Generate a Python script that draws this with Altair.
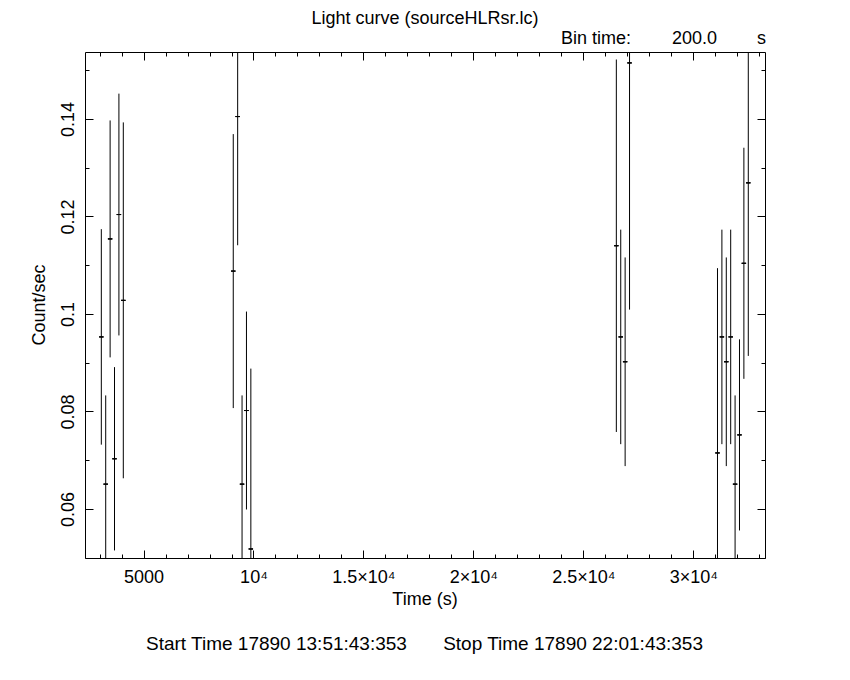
import altair as alt
import pandas as pd

# ---- data (200 s bins) ----
times = [3080, 3280, 3480, 3680, 3880, 4080,
         9080, 9280, 9480, 9680, 9880,
         26500, 26700, 26900, 27100,
         31100, 31300, 31500, 31700, 31900, 32100, 32300, 32500]
rates = [0.0953, 0.0651, 0.1154, 0.0703, 0.1204, 0.1028,
         0.1088, 0.1405, 0.0651, 0.0802, 0.0518,
         0.1140, 0.0953, 0.0902, 0.1515,
         0.0715, 0.0953, 0.0902, 0.0953, 0.0651, 0.0752, 0.1104, 0.1269]
errors = [0.0221, 0.0182, 0.0243, 0.0188, 0.0248, 0.0365,
          0.0281, 0.0264, 0.0182, 0.0203, 0.0370,
          0.0382, 0.0220, 0.0214, 0.0506,
          0.0379, 0.0220, 0.0214, 0.0220, 0.0182, 0.0196, 0.0237, 0.0355]
half_bin = 100  # half of the 200 s bin

x_domain = [2338, 33260]
y_domain = [0.04995, 0.15374]

x_major = [5000, 10000, 15000, 20000, 25000, 30000]
x_major_labels = ["5000", "10⁴", "1.5×10⁴", "2×10⁴", "2.5×10⁴", "3×10⁴"]
x_minor = [3000, 4000, 5000, 6000, 7000, 8000, 9000, 10000, 11000, 12000,
           13000, 14000, 15000, 16000, 17000, 18000, 19000, 20000, 21000,
           22000, 23000, 24000, 25000, 26000, 27000, 28000, 29000, 30000,
           31000, 32000, 33000]
y_major = [0.06, 0.08, 0.10, 0.12, 0.14]
y_major_labels = ["0.06", "0.08", "0.1", "0.12", "0.14"]
y_minor = [0.05, 0.06, 0.07, 0.08, 0.09, 0.10, 0.11, 0.12, 0.13, 0.14, 0.15]

title_text = "Light curve (sourceHLRsr.lc)"
bin_label = "Bin time:"
bin_value = "200.0"
bin_unit = "s"
x_title = "Time (s)"
y_title = "Count/sec"
start_text = "Start Time 17890 13:51:43:353"
stop_text = "Stop Time 17890 22:01:43:353"

FONT = "Liberation Sans"
FS = 18

df = pd.DataFrame({"t": times, "rate": rates, "err": errors})
df["lo"] = df["rate"] - df["err"]
df["hi"] = df["rate"] + df["err"]
df["t0"] = df["t"] - half_bin
df["t1"] = df["t"] + half_bin


def label_expr(values, labels):
    expr = "''"
    for v, lab in reversed(list(zip(values, labels))):
        expr = f"abs(datum.value - {v}) < 1e-9 ? '{lab}' : ({expr})"
    return expr


xs = alt.Scale(domain=x_domain, nice=False, zero=False)
ys = alt.Scale(domain=y_domain, nice=False, zero=False)


def tick_axis(orient, values, size, **kw):
    opts = dict(orient=orient, values=values, tickSize=size, offset=-size,
                domain=False, grid=False, title=None, ticks=True,
                tickColor="black", tickWidth=1)
    if "labelExpr" not in kw:
        opts["labels"] = False
    opts.update(kw)
    return alt.Axis(**opts)


x_bottom_major = tick_axis("bottom", x_major, 8,
                           labelExpr=label_expr(x_major, x_major_labels),
                           labelFont=FONT, labelFontSize=FS, labelColor="black",
                           labelPadding=10, labelOverlap=False, labelFlush=False)
y_left_major = tick_axis("left", y_major, 8,
                         labelExpr=label_expr(y_major, y_major_labels),
                         labelFont=FONT, labelFontSize=FS, labelColor="black",
                         labelAngle=270, labelAlign="center", labelBaseline="bottom",
                         labelPadding=8, labelOverlap=False, labelFlush=False)

base = alt.Chart(df)

vbars = base.mark_rule(clip=True, color="black", strokeWidth=1).encode(
    x=alt.X("t:Q", scale=xs, axis=x_bottom_major),
    y=alt.Y("lo:Q", scale=ys, axis=y_left_major),
    y2="hi:Q",
)

hbars = base.mark_rule(clip=True, color="black", strokeWidth=1).encode(
    x=alt.X("t0:Q", scale=xs, axis=tick_axis("top", x_major, 8)),
    x2="t1:Q",
    y=alt.Y("rate:Q", scale=ys, axis=tick_axis("right", y_major, 8)),
)

minor_a = base.mark_rule(clip=True, color="black", strokeWidth=1).encode(
    x=alt.X("t0:Q", scale=xs, axis=tick_axis("bottom", x_minor, 4)),
    x2="t1:Q",
    y=alt.Y("rate:Q", scale=ys, axis=tick_axis("left", y_minor, 4)),
)

minor_b = base.mark_rule(clip=True, color="black", strokeWidth=1).encode(
    x=alt.X("t0:Q", scale=xs, axis=tick_axis("top", x_minor, 4)),
    x2="t1:Q",
    y=alt.Y("rate:Q", scale=ys, axis=tick_axis("right", y_minor, 4)),
)


def text_layer(txt, x, y, align="center", angle=0, size=FS):
    return alt.Chart(pd.DataFrame({"label": [txt]})).mark_text(
        align=align, baseline="alphabetic", font=FONT, fontSize=size,
        color="black", angle=angle,
    ).encode(text="label:N", x=alt.value(x), y=alt.value(y))


texts = [
    text_layer(title_text, 340, -28),
    text_layer(bin_label, 476, -8, align="left"),
    text_layer(bin_value, 587, -8, align="left"),
    text_layer(bin_unit, 672, -8, align="left"),
    text_layer(x_title, 340, 553),
    text_layer(y_title, -40, 253, angle=270),
    text_layer(start_text, 61, 598, align="left", size=19),
    text_layer(stop_text, 618, 598, align="right", size=19),
]

chart = alt.layer(vbars, hbars, minor_a, minor_b, *texts).resolve_axis(
    x="independent", y="independent"
).properties(
    width=680, height=506,
    autosize=alt.AutoSizeParams(type="none"),
    padding={"left": 77, "top": 44, "right": 60, "bottom": 110},
    background="white",
).configure_view(stroke="black", strokeWidth=1)

chart.save("out.html", embed_options={"renderer": "svg", "actions": False})
